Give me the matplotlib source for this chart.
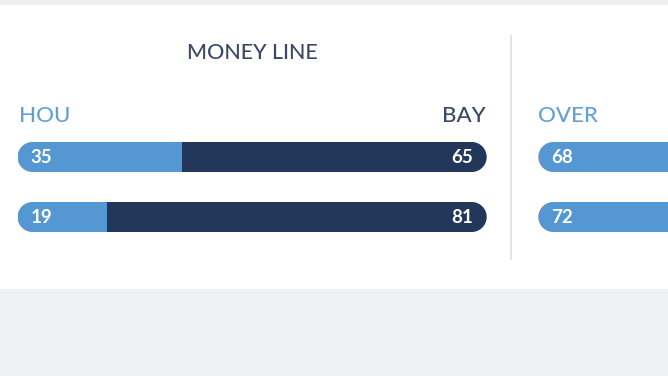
import matplotlib
matplotlib.use("Agg")
import numpy as np
import matplotlib.pyplot as plt
from matplotlib.patches import Polygon, Rectangle

plt.rcParams['font.family'] = ['Lato', 'DejaVu Sans']

# data
title_left = "MONEY LINE"
team_left = ["HOU", "BAY"]
money_home = [35, 19]
money_away = [65, 81]

team_right = ["OVER", "UNDER"]
total_over = [68, 72]
total_under = [32, 28]

LIGHT = "#5597d3"
NAVY = "#22375a"
BG = "#eff0f4"
W, H = 668, 376

fig = plt.figure(figsize=(W / 100, H / 100), dpi=100, facecolor=BG)

# overlay in pixel coords for card, texts and divider
ov = fig.add_axes([0, 0, 1, 1])
ov.set_xlim(0, W)
ov.set_ylim(H, 0)
ov.axis("off")
ov.patch.set_alpha(0)
ov.add_patch(Rectangle((0, 5), W, 284, facecolor="white", edgecolor="none"))
ov.plot([511, 511], [36, 259], color="#dcdde0", lw=1.2)

ov.text(252, 53, title_left, ha="center", va="center", fontsize=15.5,
        fontweight="medium", color="#3b4966")
ov.text(19, 122, team_left[0], ha="left", va="baseline", fontsize=16,
        fontweight="medium", color="#62a0d8")
ov.text(486, 122, team_left[1], ha="right", va="baseline", fontsize=16,
        fontweight="medium", color="#3b4966")
ov.text(538, 122, team_right[0], ha="left", va="baseline", fontsize=16,
        fontweight="medium", color="#62a0d8")

bar_x0, bar_w = 17.5, 469.2
bar_top, bar_h, row_gap = 142, 30, 60


def pill(px_x, px_y, yc):
    # stadium outline, built in pixels, returned in data units
    r = bar_h / 2
    t1 = np.linspace(np.pi / 2, 3 * np.pi / 2, 40)
    t2 = np.linspace(-np.pi / 2, np.pi / 2, 40)
    xs = np.concatenate([r + r * np.cos(t1), bar_w - r + r * np.cos(t2)])
    ys = np.concatenate([r * np.sin(t1), r * np.sin(t2)])
    return np.column_stack([xs / px_x, yc + ys / px_y])


def draw_panel(x0, left_vals, right_vals, show_right=True):
    ax = fig.add_axes([x0 / W, (H - bar_top - row_gap - bar_h) / H,
                       bar_w / W, (row_gap + bar_h) / H])
    ax.set_xlim(0, 100)
    ax.set_ylim(1.25, -0.25)
    ax.axis("off")
    ax.patch.set_alpha(0)
    px_x = bar_w / 100
    px_y = row_gap
    for i in range(len(left_vals)):
        clip = Polygon(pill(px_x, px_y, i), closed=True, transform=ax.transData,
                       facecolor="none", edgecolor="none")
        ax.add_patch(clip)
        b1 = ax.barh(i, left_vals[i], height=0.5, color=LIGHT)
        b2 = ax.barh(i, right_vals[i], left=left_vals[i], height=0.5, color=NAVY)
        for b in list(b1) + list(b2):
            b.set_clip_path(clip)
        ax.text(13 / px_x, i + 0.01, str(left_vals[i]), ha="left", va="center",
                fontsize=13.5, fontweight="bold", color="white")
        if show_right:
            ax.text(100 - 13.5 / px_x, i + 0.01, str(right_vals[i]), ha="right",
                    va="center", fontsize=13.5, fontweight="bold", color="white")
    return ax


draw_panel(bar_x0, money_home, money_away)
draw_panel(538.3, total_over, total_under, show_right=False)

fig.savefig("out.png", dpi=100, facecolor=BG)
